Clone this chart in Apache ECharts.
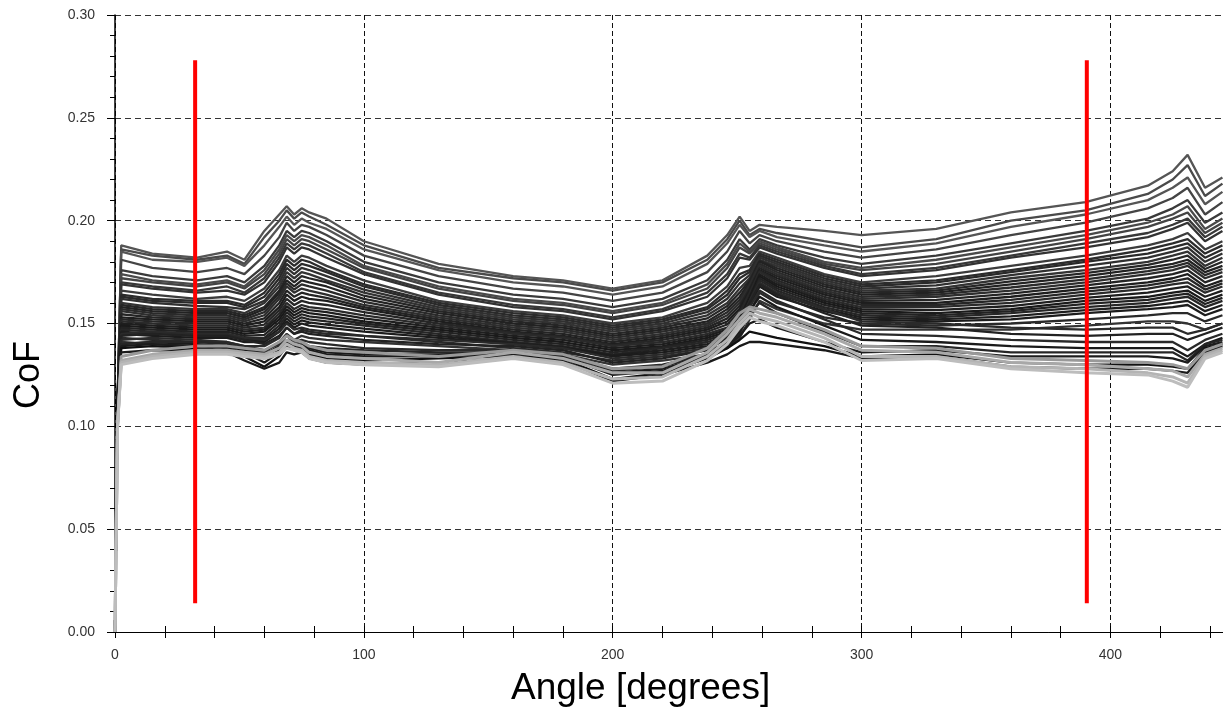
<!DOCTYPE html>
<html><head><meta charset="utf-8">
<script src="https://cdn.jsdelivr.net/npm/echarts@6/dist/echarts.min.js"></script>
<style>html,body{margin:0;padding:0;background:#fff;overflow:hidden}#chart{width:1374px;height:708px}</style>
</head><body><div id="chart"></div>
<script>
// ---- data ----
const angles = [0,1,2.5,15,33,45,52,60,66,69,72,75,78,85,100,130,160,180,200,220,238,246,251,255,259,266,285,300,330,360,390,415,425,431,438,445];
const cofA = [0,.11,.188,.184,.182,.185,.181,.195,.203,.207,.203,.206,.204,.201,.190,.179,.173,.171,.167,.171,.183,.193,.202,.195,.198,.197,.195,.193,.196,.204,.209,.217,.224,.232,.216,.221];
const cofB = [0,.11,.186,.183,.181,.183,.179,.192,.200,.205,.201,.204,.202,.198,.188,.177,.172,.170,.166,.170,.181,.191,.200,.193,.196,.194,.190,.187,.191,.200,.205,.213,.220,.227,.212,.218];
const cofC = [0,.11,.185,.181,.180,.182,.178,.188,.197,.202,.198,.201,.199,.196,.186,.176,.170,.168,.164,.168,.179,.189,.198,.192,.195,.192,.188,.185,.189,.197,.203,.210,.216,.221,.208,.214];
const cofD = [0,.11,.181,.177,.175,.177,.174,.183,.192,.199,.195,.198,.197,.193,.183,.173,.167,.165,.161,.165,.175,.185,.195,.189,.193,.190,.185,.182,.186,.193,.199,.206,.211,.216,.203,.209];
const cofE = [0,.11,.176,.173,.171,.173,.170,.178,.188,.195,.192,.195,.194,.190,.180,.170,.164,.162,.158,.162,.171,.181,.191,.186,.191,.188,.182,.179,.183,.189,.195,.201,.206,.210,.199,.204];
const cofE2 = [0,.11,.174,.171,.169,.171,.168,.176,.186,.193,.190,.193,.192,.188,.178,.168,.162,.160,.156,.160,.169,.179,.189,.185,.190,.187,.180,.177,.181,.187,.193,.199,.203,.207,.196,.201];
const cofF = [0,.11,.172,.170,.168,.170,.167,.174,.184,.191,.188,.191,.190,.186,.177,.167,.161,.159,.155,.159,.167,.177,.187,.184,.189,.186,.179,.176,.179,.185,.191,.197,.201,.204,.194,.199];
const cofF2 = [0,.11,.170,.168,.166,.168,.165,.172,.182,.189,.186,.189,.188,.184,.175,.165,.159,.157,.153,.157,.165,.174,.184,.182,.188,.185,.178,.174,.177,.183,.189,.194,.198,.201,.192,.197];
const cofG = [0,.11,.169,.167,.165,.166,.164,.170,.180,.187,.184,.187,.186,.182,.174,.164,.158,.156,.152,.156,.163,.172,.182,.181,.187,.184,.177,.173,.176,.182,.187,.192,.196,.199,.190,.195];
const cofH = [0,.11,.166,.164,.162,.163,.161,.167,.176,.183,.180,.183,.182,.178,.171,.161,.156,.154,.150,.153,.160,.168,.177,.178,.185,.182,.174,.170,.173,.178,.183,.188,.191,.194,.186,.190];
const cofH2 = [0,.11,.164,.162,.161,.161,.159,.165,.174,.181,.178,.181,.180,.176,.169,.160,.155,.153,.149,.152,.158,.166,.174,.176,.184,.181,.173,.169,.171,.176,.181,.186,.189,.191,.184,.188];
const cofI = [0,.11,.163,.161,.160,.160,.158,.163,.172,.179,.176,.179,.178,.175,.168,.159,.154,.152,.148,.151,.157,.164,.172,.175,.183,.180,.172,.168,.170,.175,.180,.184,.187,.189,.182,.186];
const cofI2 = [0,.11,.162,.160,.1585,.158,.157,.161,.170,.177,.174,.177,.176,.173,.1665,.158,.153,.151,.147,.150,.1555,.162,.1695,.1735,.182,.179,.171,.167,.1685,.1735,.178,.182,.185,.187,.180,.184];
const cofJ = [0,.11,.160,.158,.157,.157,.155,.160,.168,.175,.172,.175,.174,.171,.165,.157,.152,.150,.146,.149,.154,.160,.167,.172,.181,.178,.170,.166,.167,.172,.176,.180,.183,.185,.178,.182];
const cofJ2 = [0,.11,.159,.157,.156,.156,.154,.158,.166,.173,.170,.173,.172,.170,.1635,.156,.151,.149,.145,.148,.1525,.1585,.165,.171,.1805,.177,.169,.165,.166,.1705,.1745,.1785,.181,.183,.1765,.180];
const cofK = [0,.11,.158,.156,.155,.155,.153,.157,.165,.171,.168,.171,.170,.168,.162,.155,.150,.148,.144,.147,.151,.157,.163,.170,.180,.176,.168,.164,.165,.169,.173,.177,.179,.181,.175,.178];
const cofK2 = [0,.11,.157,.155,.154,.154,.152,.1555,.1635,.1695,.1665,.169,.168,.166,.1605,.154,.149,.147,.143,.146,.150,.1555,.1615,.169,.179,.175,.167,.163,.164,.1675,.1715,.1755,.1775,.1795,.1735,.1765];
const cofL = [0,.11,.156,.154,.153,.153,.151,.154,.162,.168,.165,.167,.166,.164,.159,.153,.148,.146,.142,.145,.149,.154,.160,.168,.178,.174,.166,.162,.163,.166,.170,.174,.176,.178,.172,.175];
const cofL2 = [0,.11,.1545,.153,.152,.152,.150,.1525,.160,.166,.163,.165,.164,.1625,.158,.152,.147,.145,.141,.144,.148,.1525,.1585,.167,.177,.173,.165,.161,.1615,.1645,.1685,.172,.174,.176,.170,.173];
const cofM = [0,.11,.153,.152,.151,.151,.149,.151,.158,.164,.161,.163,.162,.161,.157,.151,.146,.144,.140,.143,.147,.151,.157,.166,.176,.172,.164,.160,.160,.163,.167,.170,.172,.174,.168,.171];
const cofM2 = [0,.11,.152,.151,.150,.150,.148,.1495,.1565,.162,.159,.161,.160,.159,.1555,.150,.1455,.1435,.1395,.142,.146,.1495,.1555,.165,.1755,.171,.163,.159,.159,.1615,.1655,.1685,.1705,.172,.1665,.1695];
const cofN = [0,.11,.151,.150,.149,.149,.147,.148,.155,.160,.157,.159,.158,.157,.154,.149,.145,.143,.139,.141,.145,.148,.154,.164,.175,.170,.162,.158,.158,.160,.164,.167,.169,.170,.165,.168];
const cofN2 = [0,.11,.150,.149,.148,.148,.146,.147,.1535,.1585,.1555,.1575,.1565,.1555,.1525,.148,.144,.142,.138,.140,.144,.147,.1525,.163,.174,.169,.161,.157,.1565,.1585,.1625,.165,.167,.168,.163,.166];
const cofO = [0,.11,.149,.148,.147,.147,.145,.146,.152,.157,.154,.156,.155,.154,.151,.147,.143,.141,.137,.139,.143,.146,.151,.162,.173,.168,.160,.156,.155,.157,.161,.163,.165,.166,.161,.164];
const cofO2 = [0,.11,.148,.147,.146,.146,.144,.1445,.1505,.1555,.1525,.1545,.1535,.1525,.150,.146,.142,.140,.136,.1385,.142,.145,.150,.161,.172,.167,.159,.155,.154,.156,.1595,.1615,.1635,.1645,.1595,.1625];
const cofP = [0,.11,.147,.146,.145,.145,.143,.143,.149,.154,.151,.153,.152,.151,.149,.145,.141,.139,.135,.138,.141,.144,.149,.160,.171,.166,.158,.154,.153,.155,.158,.160,.162,.163,.158,.161];
const cofP2 = [0,.11,.146,.145,.144,.144,.142,.142,.1475,.1525,.1495,.1515,.1505,.1495,.1475,.144,.1405,.1385,.1345,.137,.140,.143,.148,.159,.1695,.1645,.157,.153,.152,.1535,.1565,.1585,.160,.161,.156,.159];
const cofQ = [0,.11,.145,.144,.143,.143,.141,.141,.146,.151,.148,.150,.149,.148,.146,.143,.140,.138,.134,.136,.139,.142,.147,.158,.168,.163,.156,.152,.151,.152,.155,.157,.158,.159,.154,.157];
const cofR = [0,.11,.143,.142,.141,.141,.139,.139,.143,.148,.145,.147,.146,.145,.144,.141,.138,.136,.132,.134,.137,.140,.145,.155,.165,.160,.153,.150,.149,.150,.152,.154,.155,.155,.151,.154];
const cofS = [0,.11,.141,.140,.139,.139,.137,.136,.141,.145,.142,.144,.143,.142,.141,.139,.137,.135,.130,.132,.135,.138,.143,.152,.161,.157,.150,.147,.147,.147,.149,.151,.151,.150,.147,.150];
const cofS2 = [0,.11,.144,.145,.144,.144,.142,.140,.144,.148,.145,.146,.145,.144,.142,.140,.139,.137,.131,.133,.137,.143,.150,.160,.169,.164,.155,.149,.148,.145,.144,.145,.145,.142,.145,.148];
const cofS3 = [0,.11,.142,.143,.142,.141,.139,.137,.140,.144,.141,.142,.141,.140,.138,.137,.137,.135,.128,.130,.135,.141,.148,.158,.166,.161,.152,.145,.144,.142,.141,.141,.141,.137,.142,.145];
const cofS4 = [0,.11,.140,.141,.140,.139,.137,.133,.137,.141,.139,.140,.138,.136,.135,.135,.136,.134,.126,.128,.134,.140,.146,.156,.163,.158,.149,.142,.141,.139,.138,.138,.138,.134,.140,.143];
const cofS5 = [0,.11,.145,.146,.145,.145,.143,.142,.146,.150,.147,.148,.147,.146,.144,.142,.140,.138,.133,.135,.138,.144,.151,.161,.170,.165,.157,.151,.150,.148,.147,.148,.148,.145,.147,.150];
const cofT = [0,.11,.138,.139,.138,.137,.134,.129,.134,.139,.137,.138,.135,.133,.132,.133,.134,.133,.123,.126,.133,.138,.142,.146,.145,.143,.139,.134,.135,.131,.130,.130,.129,.128,.138,.140];
const cofT2 = [0,.11,.139,.140,.139,.138,.136,.131,.136,.140,.138,.139,.137,.135,.134,.134,.135,.134,.125,.127,.134,.139,.144,.150,.152,.148,.141,.136,.137,.134,.134,.134,.133,.131,.139,.141];
const cofT3 = [0,.11,.140,.141,.141,.140,.138,.135,.139,.142,.140,.141,.139,.138,.137,.136,.136,.135,.127,.129,.135,.141,.147,.155,.160,.155,.146,.139,.139,.136,.136,.136,.136,.132,.140,.142];
const cofU = [0,.11,.136,.137,.137,.136,.132,.128,.131,.136,.135,.136,.133,.131,.130,.131,.133,.132,.122,.125,.131,.135,.139,.141,.141,.140,.137,.133,.134,.129,.128,.128,.127,.126,.136,.139];
const cofV = [0,.10,.132,.135,.137,.137,.136,.135,.138,.142,.140,.139,.136,.134,.133,.131,.136,.133,.126,.126,.136,.145,.152,.157,.155,.153,.145,.137,.136,.131,.130,.128,.127,.124,.135,.138];
const cofW = [0,.10,.131,.134,.136,.136,.135,.134,.136,.140,.138,.137,.134,.132,.131,.130,.134,.131,.123,.124,.134,.142,.150,.155,.153,.151,.143,.134,.134,.129,.128,.126,.124,.121,.134,.137];
const cofX = [0,.10,.130,.133,.135,.135,.134,.133,.135,.138,.137,.136,.133,.131,.130,.129,.133,.130,.121,.122,.132,.140,.148,.153,.151,.149,.141,.132,.133,.128,.126,.125,.122,.119,.133,.136];
const cofY = [0,.10,.134,.137,.139,.139,.138,.137,.141,.144,.142,.141,.139,.137,.136,.134,.137,.135,.128,.129,.138,.147,.155,.158,.157,.155,.147,.139,.138,.133,.132,.131,.130,.128,.137,.140];
const markerAngles = [32.2, 390.5];
const markerCoF = [0.014, 0.278];

// ---- build ----
const curves = [cofA,cofB,cofC,cofD,cofE,cofE2,cofF,cofF2,cofG,cofH,cofH2,cofI,cofI2,cofJ,cofJ2,cofK,cofK2,cofL,cofL2,cofM,cofM2,cofN,cofN2,cofO,cofO2,cofP,cofP2,cofQ,cofR,cofS,cofS5,cofS2,cofS3,cofS4,cofT3,cofT2,cofT,cofU,cofY,cofV,cofW,cofX];
const palette = ['#555','#4a4a4a','#555','#444','#3a3a3a','#4a4a4a','#444','#383838','#333','#3c3c3c','#2c2c2c','#2a2a2a','#303030','#333','#262626','#222','#2a2a2a','#2e2e2e','#242424','#1e1e1e','#262626','#2a2a2a','#1e1e1e','#1a1a1a','#222','#262626','#1e1e1e','#1c1c1c','#2a2a2a','#333','#2a2a2a','#222','#2a2a2a','#1a1a1a','#262626','#1c1c1c','#111','#1a1a1a','#999','#a8a8a8','#b4b4b4','#bdbdbd'];
const LIGHT_FROM = 38;
const FONT = 'Liberation Sans, Arial, sans-serif';
const series = curves.map((vals,i)=>({
  type:'line', xAxisIndex:0, yAxisIndex:0, symbol:'none', showSymbol:false, silent:true, z:2,
  lineStyle:{color:palette[i], width: i >= LIGHT_FROM ? 3 : 2.3},
  data: angles.map((a,j)=>[a, vals[j]])
}));
markerAngles.forEach(a=>{
  series.push({type:'line', xAxisIndex:0, yAxisIndex:0, symbol:'none', silent:true, z:10,
    lineStyle:{color:'#ff0000', width:4}, data:[[a, markerCoF[0]],[a, markerCoF[1]]]});
});

const chart = echarts.init(document.getElementById('chart'));
chart.setOption({
  animation:false,
  backgroundColor:'#fff',
  grid:{left:115, right:0, top:15, bottom:76, containLabel:false},
  xAxis:[{
    type:'value', min:0, max:500, interval:100, position:'bottom',
    axisLine:{show:true, onZero:false, lineStyle:{color:'#000', width:1}},
    axisTick:{show:true, length:6, lineStyle:{color:'#000'}},
    minorTick:{show:true, splitNumber:5, length:6, lineStyle:{color:'#000'}},
    axisLabel:{fontSize:14, color:'#333', margin:16, fontFamily:FONT},
    splitLine:{show:true, lineStyle:{color:'#111', width:1, type:[5,3]}}
  },{
    type:'value', min:0, max:500, interval:100, position:'bottom',
    axisLine:{show:false, onZero:false},
    axisTick:{show:true, inside:true, length:6, lineStyle:{color:'#000'}},
    minorTick:{show:true, splitNumber:5, length:6, lineStyle:{color:'#000'}},
    axisLabel:{show:false}, splitLine:{show:false}
  }],
  yAxis:[{
    type:'value', min:0, max:0.3, interval:0.05, position:'left',
    axisLine:{show:true, onZero:false, lineStyle:{color:'#000', width:1.5}},
    axisTick:{show:true, length:8, lineStyle:{color:'#000'}},
    minorTick:{show:true, splitNumber:5, length:5, lineStyle:{color:'#000'}},
    axisLabel:{fontSize:14, color:'#333', margin:20, fontFamily:FONT, formatter:v=>v.toFixed(2)},
    splitLine:{show:true, lineStyle:{color:'#333', width:1, type:[6,4]}}
  },{
    type:'value', min:0, max:0.3, interval:0.05, position:'left',
    axisLine:{show:false, onZero:false},
    axisTick:{show:false},
    minorTick:{show:true, splitNumber:5, length:5, lineStyle:{color:'#000'}},
    axisLabel:{show:false}, splitLine:{show:false}
  }],
  graphic:[
    {type:'text', left:511, top:670, style:{text:'Angle [degrees]', font:'37px '+FONT, fill:'#000'}},
    {type:'text', x:29, y:375, rotation:Math.PI/2, style:{text:'CoF', font:'36px '+FONT, fill:'#000', textAlign:'center', textVerticalAlign:'middle'}}
  ],
  series:series
});
</script></body></html>
